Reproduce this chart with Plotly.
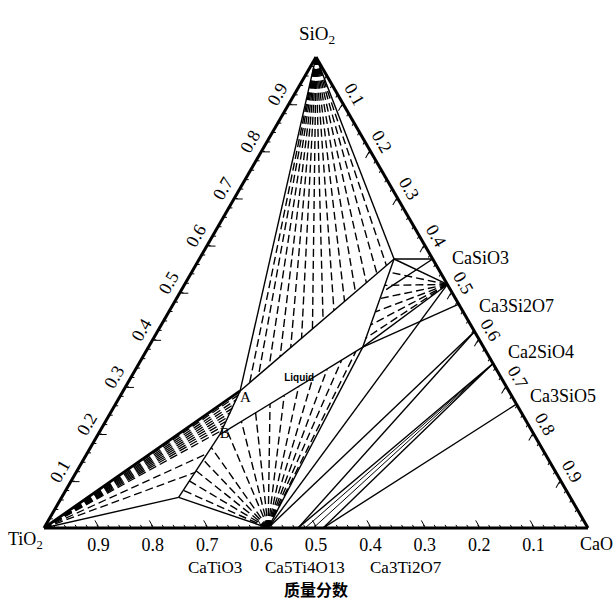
import plotly.graph_objects as go

# ---------------- data : compositions as [SiO2, TiO2, CaO] mass fractions ----------------
SIO2 = [1.0, 0.0, 0.0]
TIO2 = [0.0, 1.0, 0.0]
CASIO3 = [0.517, 0.0, 0.483]
CA3SI2O7 = [0.417, 0.0, 0.583]
CA2SIO4 = [0.349, 0.0, 0.651]
CA3SIO5 = [0.263, 0.0, 0.737]
CATIO3 = [0.0, 0.588, 0.412]
CA5TI4O13 = [0.0, 0.533, 0.467]
CA3TI2O7 = [0.0, 0.487, 0.513]

PT_A = [0.291, 0.494, 0.215]
PT_B = [0.198, 0.578, 0.224]
PT_S = [0.065, 0.720, 0.215]
PT_U = [0.571, 0.071, 0.358]
PT_L = [0.384, 0.222, 0.394]
PT_E = [0.475, 0.0, 0.525]
PT_E0 = [0.571, 0.0, 0.429]
PT_P1 = [0.506, 0.118, 0.376]

# liquid ends of the SiO2 + liquid tie lines
SIO2_TIE_ENDS = [
    [0.308, 0.468, 0.224], [0.325, 0.443, 0.232], [0.344, 0.414, 0.242],
    [0.364, 0.384, 0.252], [0.383, 0.355, 0.262], [0.403, 0.325, 0.272],
    [0.423, 0.295, 0.282], [0.442, 0.266, 0.292], [0.462, 0.236, 0.302],
    [0.481, 0.207, 0.312], [0.501, 0.177, 0.322], [0.521, 0.147, 0.332],
    [0.540, 0.118, 0.342], [0.557, 0.092, 0.351],
]
# liquid ends of the TiO2 + liquid tie lines
TIO2_TIE_ENDS = [
    [0.282, 0.502, 0.216], [0.272, 0.511, 0.217], [0.263, 0.519, 0.218],
    [0.254, 0.527, 0.219], [0.245, 0.535, 0.220], [0.235, 0.545, 0.220],
    [0.226, 0.553, 0.221], [0.217, 0.561, 0.222], [0.207, 0.570, 0.223],
    [0.158, 0.621, 0.221], [0.118, 0.663, 0.219],
]
# liquid ends of the CaTiO3 + liquid tie lines
CATIO3_TIE_ENDS = [
    [0.080, 0.704, 0.216], [0.100, 0.683, 0.217], [0.122, 0.660, 0.218],
    [0.145, 0.635, 0.220], [0.171, 0.607, 0.222], [0.208, 0.560, 0.232],
    [0.226, 0.524, 0.250], [0.244, 0.489, 0.267], [0.263, 0.453, 0.284],
    [0.281, 0.418, 0.301], [0.300, 0.382, 0.318], [0.318, 0.347, 0.335],
    [0.337, 0.311, 0.352], [0.356, 0.275, 0.369], [0.374, 0.240, 0.386],
]
# liquid ends of the CaSiO3 + liquid tie lines
CASIO3_TIE_ENDS = [
    [0.543, 0.094, 0.363], [0.515, 0.116, 0.369], [0.487, 0.139, 0.374],
    [0.459, 0.161, 0.380], [0.431, 0.184, 0.385], [0.403, 0.207, 0.390],
]
# Ca2SiO4 solid-solution tie lines (bottom ends)
CA2SIO4_TIE_ENDS = [
    [0.0, 0.520, 0.480], [0.0, 0.505, 0.495],
]

SOLID_SEGMENTS = [
    (SIO2, PT_A), (SIO2, PT_U), (PT_A, PT_B), (PT_B, PT_S), (PT_S, TIO2),
    (PT_S, CATIO3), (PT_B, PT_L), (PT_L, PT_E), (PT_A, PT_U), (PT_U, PT_L),
    (PT_L, CATIO3), (PT_U, CASIO3), (PT_L, CASIO3), (CASIO3, CATIO3),
    (PT_U, PT_E0), (PT_P1, PT_E0),
    (CA3SI2O7, CATIO3), (CA3SI2O7, CA5TI4O13), (CA2SIO4, CA5TI4O13),
    (CA2SIO4, CA3TI2O7), (CA3SIO5, CA3TI2O7),
]
THICK_SEGMENTS = [(TIO2, PT_A)]

MAJOR_TICKS = [0.1, 0.2, 0.3, 0.4, 0.5, 0.6, 0.7, 0.8, 0.9]
MAJOR_TEXT = ["0.1", "0.2", "0.3", "0.4", "0.5", "0.6", "0.7", "0.8", "0.9"]

CORNER_LABELS = ["SiO<sub>2</sub>", "TiO<sub>2</sub>", "CaO"]
SILICATE_LABELS = ["CaSiO3", "Ca3Si2O7", "Ca2SiO4", "Ca3SiO5"]
TITANATE_LABELS = ["CaTiO3", "Ca5Ti4O13", "Ca3Ti2O7"]
AXIS_TITLE = "质量分数"

# minor tick positions every 0.02 (axis decoration only)
minor_vals = [round(0.02 * i, 2) for i in range(1, 50)]

W, H = 616, 603

# ---------------- figure ----------------
fig = go.Figure()


def seg(p, q, width=1.3, dash="solid"):
    fig.add_trace(go.Scatterternary(
        a=[p[0], q[0]], b=[p[1], q[1]], c=[p[2], q[2]],
        mode="lines", line=dict(color="black", width=width, dash=dash),
        hoverinfo="skip", showlegend=False))


DASH = "8px,4px"
for e in SIO2_TIE_ENDS:
    seg(SIO2, e, 1.4, DASH)
for e in TIO2_TIE_ENDS:
    seg(TIO2, e, 1.3, DASH)
for e in CATIO3_TIE_ENDS:
    seg(CATIO3, e, 1.4, DASH)
for e in CASIO3_TIE_ENDS:
    seg(CASIO3, e, 1.4, DASH)
for e in CA2SIO4_TIE_ENDS:
    seg(CA2SIO4, e, 1.0, "solid")
for p, q in SOLID_SEGMENTS:
    seg(p, q, 1.4)
for p, q in THICK_SEGMENTS:
    seg(p, q, 2.8)

serif = "Liberation Serif"

# point labels
fig.add_trace(go.Scatterternary(
    a=[PT_A[0], PT_B[0]], b=[PT_A[1], PT_B[1]], c=[PT_A[2], PT_B[2]],
    mode="text", text=["A", "B"], textposition=["bottom right", "middle right"],
    textfont=dict(family=serif, size=15, color="black"),
    hoverinfo="skip", showlegend=False))

LIQ = [0.318, 0.372, 0.310]
fig.add_trace(go.Scatterternary(
    a=[LIQ[0]], b=[LIQ[1]], c=[LIQ[2]], mode="text", text=["<b>Liquid</b>"],
    textfont=dict(family="Liberation Sans", size=10, color="black"),
    hoverinfo="skip", showlegend=False, subplot="ternary2"))

major_axis = dict(
    title=dict(text=""),
    showgrid=False, showline=True, linecolor="black", linewidth=3,
    ticks="inside", ticklen=7, tickwidth=1.4, tickcolor="black",
    tickvals=MAJOR_TICKS, ticktext=MAJOR_TEXT,
    tickfont=dict(family=serif, size=18, color="black"),
    min=0,
)
minor_axis = dict(
    title=dict(text=""),
    showgrid=False, showline=False,
    ticks="inside", ticklen=3, tickwidth=1.4, tickcolor="black",
    tickvals=minor_vals, showticklabels=False,
    min=0,
)

DOMAIN = dict(x=[0.07143, 0.95455], y=[0.12438, 0.90564])

fig.update_layout(
    width=W, height=H,
    margin=dict(l=0, r=0, t=0, b=0),
    paper_bgcolor="white",
    showlegend=False,
    ternary=dict(
        sum=1, bgcolor="white", domain=DOMAIN,
        aaxis=dict(major_axis, tickangle=-60),
        baxis=dict(major_axis),
        caxis=dict(major_axis, tickangle=60),
    ),
    ternary2=dict(
        sum=1, bgcolor="rgba(0,0,0,0)", domain=DOMAIN,
        aaxis=dict(minor_axis), baxis=dict(minor_axis), caxis=dict(minor_axis),
    ),
)


def note(txt, px, py, size=18, family=serif):
    fig.add_annotation(text=txt, x=px / W, y=1 - py / H,
                       xref="paper", yref="paper", xanchor="center", yanchor="middle",
                       showarrow=False, font=dict(family=family, size=size, color="black"))


note(CORNER_LABELS[0], 317, 35, 19)
note(CORNER_LABELS[1], 25, 540, 18)
note(CORNER_LABELS[2], 596, 544, 18)
for txt, (px, py) in zip(SILICATE_LABELS, [(480, 258), (516, 306), (541, 352), (563, 396)]):
    note(txt, px, py, 18)
for txt, (px, py) in zip(TITANATE_LABELS, [(215, 567), (305, 567), (406, 567)]):
    note(txt, px, py, 17)
note("<b>" + AXIS_TITLE + "</b>", 316, 589, 16, "Noto Sans CJK SC")

# the page is shown edge to edge: drop the default body margin of the html page
fig.write_html("out.html",
               config={"displayModeBar": False},
               post_script="document.body.style.margin='0px';document.body.style.overflow='hidden';")
